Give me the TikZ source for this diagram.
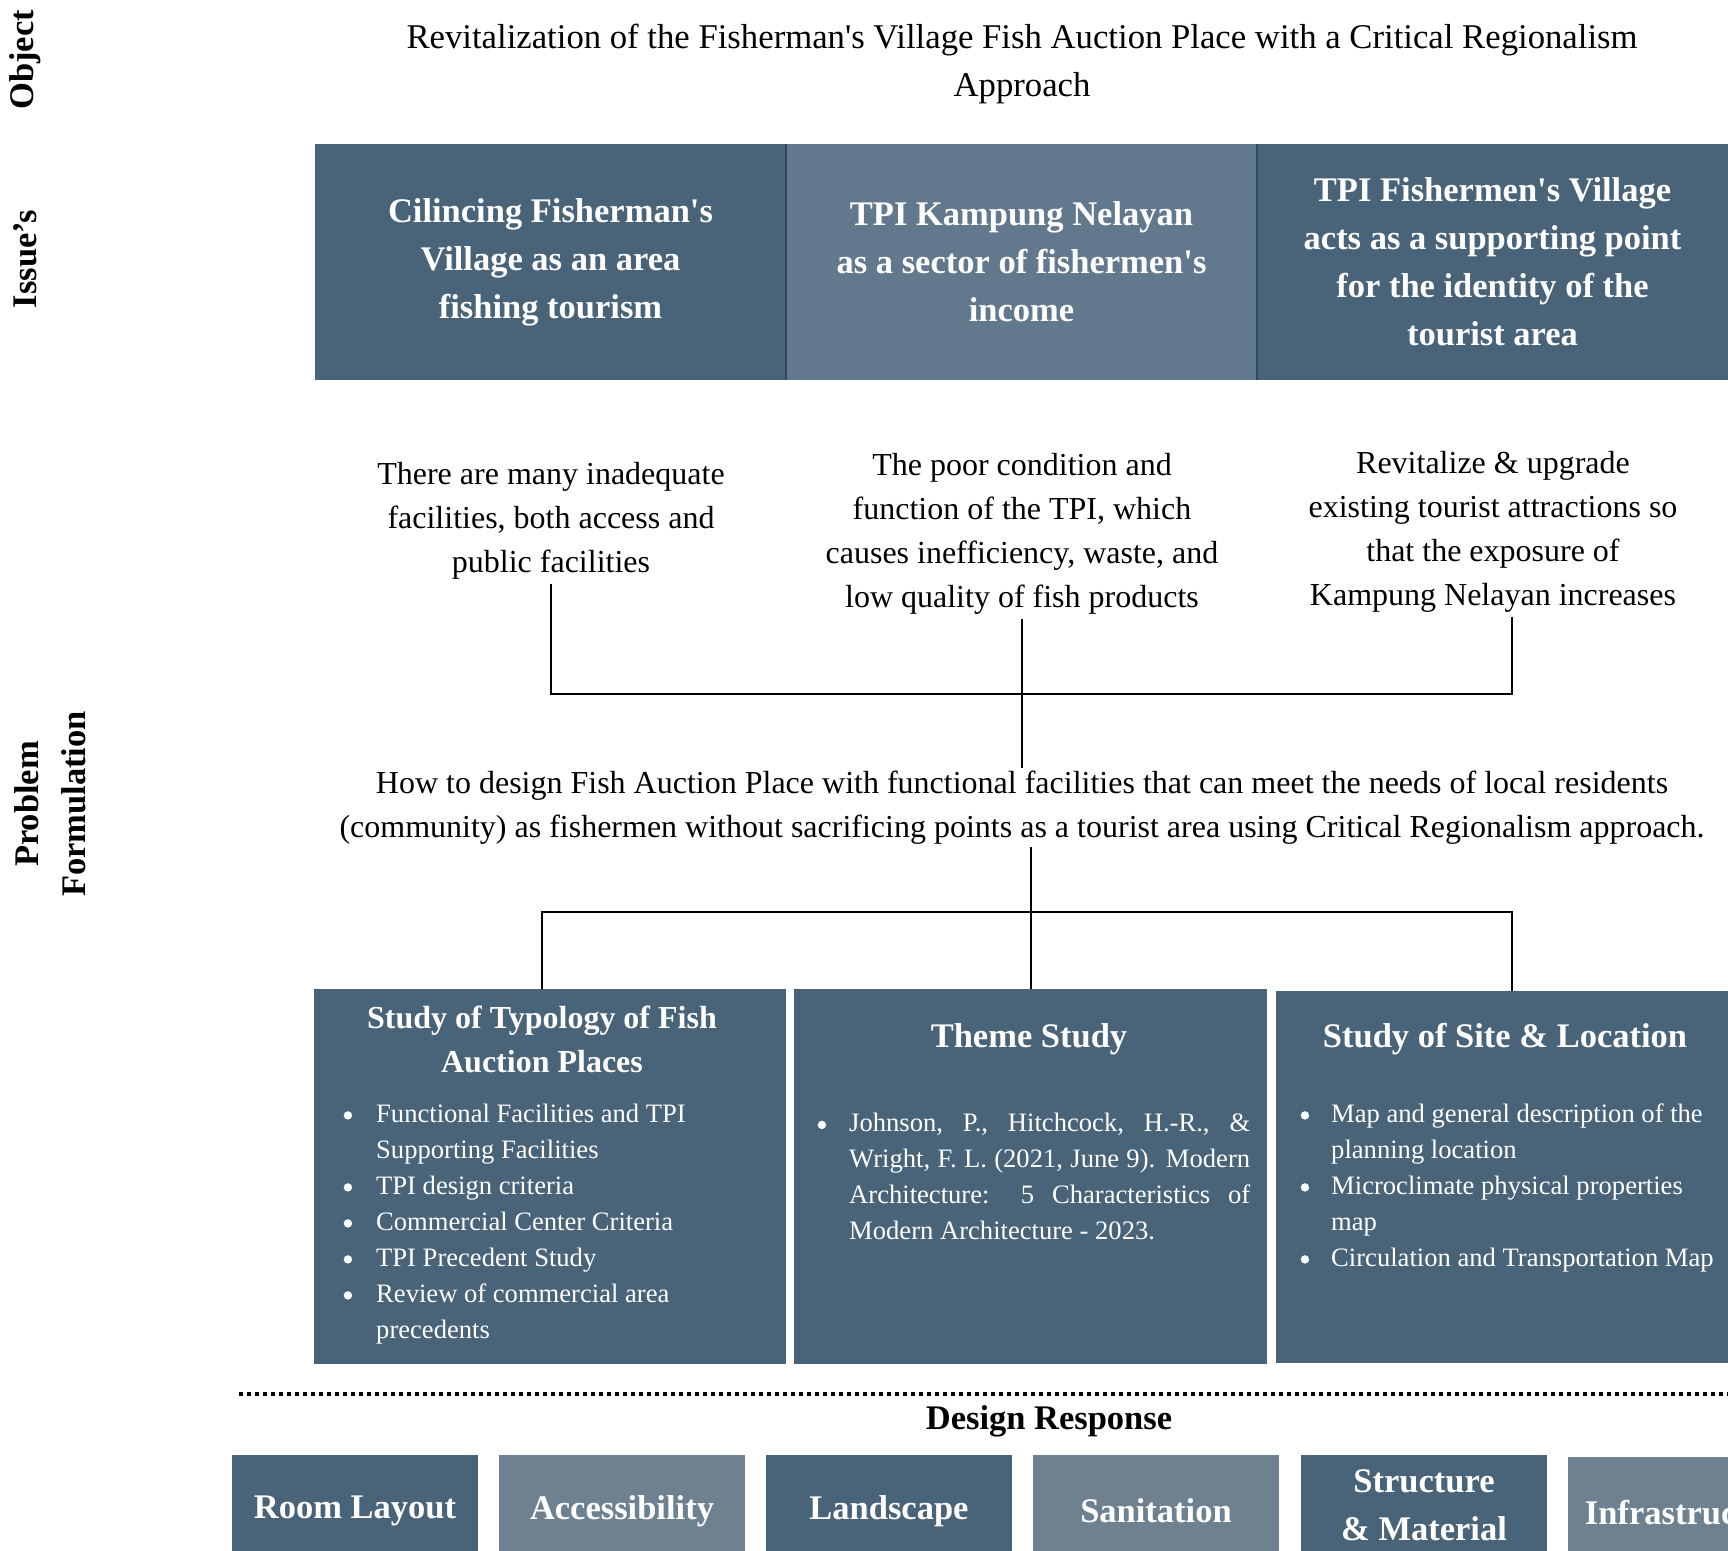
\documentclass[tikz,border=0pt]{standalone}
\usepackage{fontspec}
\setmainfont{Liberation Serif}
\usetikzlibrary{calc}

\definecolor{slatedark}{RGB}{73,99,121}
\definecolor{slatemid}{RGB}{98,121,141}
\definecolor{slatelight}{RGB}{110,129,145}
\definecolor{slateline}{RGB}{44,72,98}

\newcommand{\fbold}{\fontsize{34.5}{48}\selectfont\bfseries}
\newcommand{\ftitlebold}{\fontsize{34.5}{44}\selectfont\bfseries}
\newcommand{\freg}{\fontsize{32}{44}\selectfont}
\newcommand{\fsmall}{\fontsize{26.6}{36}\selectfont\tolerance=9999\hyphenpenalty=10000\relax}
% round list marker, centred on the x-height
\newcommand{\bdot}{\tikz[baseline={(0pt,-7pt)}]\fill[white] (0pt,0pt) circle [radius=4.2pt];}
% lowers a one-line label inside its box
\newcommand{\lowered}[1]{\raisebox{-6pt}[\height][\depth]{#1}}

\begin{document}
\begin{tikzpicture}[x=1pt,y=-1pt,
  sidelabel/.style={font=\fbold, rotate=90, align=center, inner sep=0pt},
  issuebox/.style={fill=slatedark, text=white, font=\fbold, align=center,
    minimum width=471pt, minimum height=236pt, anchor=north west,
    inner sep=0pt, outer sep=0pt},
  sepline/.style={draw=slateline, line width=1.2pt},
  bodytext/.style={font=\freg, align=center, inner sep=4pt},
  connector/.style={draw=black, line width=2pt},
  studybox/.style={fill=slatedark, minimum width=472pt, minimum height=375pt,
    anchor=north west, inner sep=0pt, outer sep=0pt},
  studytitle/.style={font=\ftitlebold, text=white, align=center, inner sep=0pt},
  bulletlist/.style={font=\fsmall, text=white, anchor=north west, inner sep=0pt},
  dotline/.style={draw=black, line width=3.5pt, dash pattern=on 3.5pt off 4.5pt},
  respbox/.style={fill=slatedark, text=white, font=\fbold, align=center,
    minimum width=246pt, minimum height=100pt, anchor=north west,
    inner sep=0pt, outer sep=0pt}
]
\useasboundingbox (0,0) rectangle (1728,1550);
\begin{scope}
\clip (0,0) rectangle (1728,1550);

% side labels
\node[sidelabel] (objlabel) at (25,60) {Object};
\node[sidelabel] (isslabel) at (25,259) {Issue’s};
\node[sidelabel, font=\fontsize{34.5}{47}\selectfont\bfseries] (problabel) at (50,804) {Problem\\Formulation};

% object statement
\node[font=\fontsize{34.7}{47.5}\selectfont, align=center, inner sep=0pt] (objtext) at (1022,64)
  {Revitalization of the Fisherman\textquotesingle s Village Fish Auction Place with a Critical Regionalism\\Approach};

% issues
\node[issuebox] (iss1) at (315,144) {Cilincing Fisherman\textquotesingle s\\Village as an area\\fishing tourism};
\node[issuebox, fill=slatemid] (iss2) at (786,144) {TPI Kampung Nelayan\\as a sector of fishermen\textquotesingle s\\income};
\node[issuebox] (iss3) at (1257,144) {TPI Fishermen\textquotesingle s Village\\acts as a supporting point\\for the identity of the\\tourist area};
\draw[sepline] (iss1.north east) -- (iss1.south east);
\draw[sepline] (iss2.north east) -- (iss2.south east);

% problems
\node[bodytext] (prob1) at (551,521) {There are many inadequate\\facilities, both access and\\public facilities};
\node[bodytext] (prob2) at (1022,534) {The poor condition and\\function of the TPI, which\\causes inefficiency, waste, and\\low quality of fish products};
\node[bodytext] (prob3) at (1493,532) {Revitalize \& upgrade\\existing tourist attractions so\\that the exposure of\\Kampung Nelayan increases};

% problem formulation
\node[bodytext, inner sep=3pt] (quest) at (1022,807.5)
  {How to design Fish Auction Place with functional facilities that can meet the needs of local residents\\(community) as fishermen without sacrificing points as a tourist area using Critical Regionalism approach.};

% studies
\node[studybox] (typo) at (314,989) {};
\node[studybox, minimum width=473pt] (theme) at (794,989) {};
\node[studybox, minimum height=372pt] (site) at (1276,991) {};

\coordinate (hub1) at (1022,694);
\draw[connector] (prob1.south) |- (hub1);
\draw[connector] (prob3.south -| site.north) |- (hub1);
\draw[connector] (prob2.south) -- (quest.north);

\node[studytitle, font=\fontsize{32}{44}\selectfont\bfseries] (typotitle) at (542,1039) {Study of Typology of Fish\\Auction Places};
\node[studytitle] (themetitle) at (1029,1039) {Theme Study};
\node[studytitle] (sitetitle) at (1505,1039) {Study of Site \& Location};

\node[bulletlist] (typolist) at (343.5,1097) {%
  \begin{tabular}{@{}p{32.5pt}@{}l@{}}
  \bdot & Functional Facilities and TPI\\
        & Supporting Facilities\\
  \bdot & TPI design criteria\\
  \bdot & Commercial Center Criteria\\
  \bdot & TPI Precedent Study\\
  \bdot & Review of commercial area\\
        & precedents
  \end{tabular}};
\node[bulletlist] (themelist) at (817.5,1106.5) {%
  \begin{tabular}{@{}p{31.5pt}@{}p{401pt}@{}}
  \bdot & Johnson, P., Hitchcock, H.-R., \&\linebreak
          Wright, F. L. (2021, June 9). Modern\linebreak
          Architecture: 5 Characteristics of\linebreak
          Modern Architecture - 2023.
  \end{tabular}};
\node[bulletlist] (sitelist) at (1300.5,1097) {%
  \begin{tabular}{@{}p{30.5pt}@{}l@{}}
  \bdot & Map and general description of the\\
        & planning location\\
  \bdot & Microclimate physical properties\\
        & map\\
  \bdot & Circulation and Transportation Map
  \end{tabular}};

\coordinate (hub2) at (1031,912);
\draw[connector] (quest.south -| theme.north) -- (theme.north);
\draw[connector] (typotitle |- typo.north) |- (hub2) -| (site.north);

% design response
\draw[dotline] (239,1394) -- (1740,1394);
\node[font=\fbold, inner sep=0pt] (resp) at (1049,1421) {Design Response};

\node[respbox] (r1) at (232,1455) {\lowered{Room Layout}};
\node[respbox, fill=slatelight] (r2) at (499,1455) {\lowered{Accessibility}};
\node[respbox] (r3) at (766,1455) {\lowered{Landscape}};
\node[respbox, fill=slatelight] (r4) at (1033,1455) {\lowered{Sanitation}};
\node[respbox] (r5) at (1301,1455) {Structure\\\& Material};
\node[respbox, fill=slatelight] (r6) at (1568,1457) {\lowered{Infrastructure}};
\end{scope}
\end{tikzpicture}
\end{document}
